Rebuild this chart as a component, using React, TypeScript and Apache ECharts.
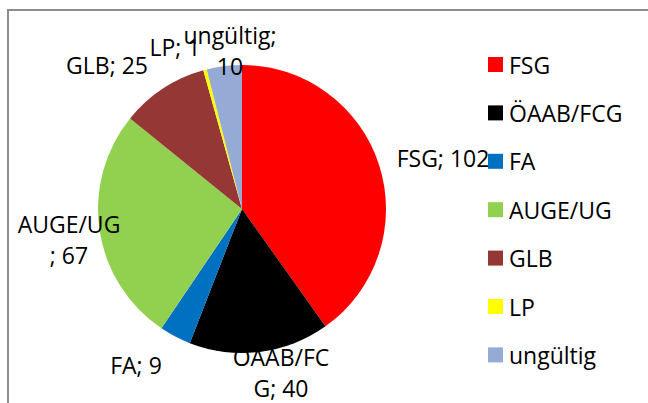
import React, { useEffect, useRef } from "react";
import * as echarts from "echarts";

const categories = ["FSG", "ÖAAB/FCG", "FA", "AUGE/UG", "GLB", "LP", "ungültig"];
const values = [102, 40, 9, 67, 25, 1, 10];
const colors = ["#FF0000", "#000000", "#0070C0", "#92D050", "#953735", "#FFFF00", "#95AAD4"];
// character index in "name; value" where the label wraps (null = single line)
const labelBreaks: (number | null)[] = [null, 7, null, 7, null, null, 9];
// label centre positions (layout only)
const labelPos: [number, number][] = [
  [443, 158],
  [281, 372],
  [136, 365],
  [69, 239],
  [107, 65],
  [175, 47],
  [230, 50],
];

const FONT = "Open Sans";

export default function App() {
  const ref = useRef<HTMLDivElement>(null);
  useEffect(() => {
    if (!ref.current) return;
    const chart = echarts.init(ref.current, null, { renderer: "svg" });
    chart.setOption({
      animation: false,
      backgroundColor: "#ffffff",
      color: colors,
      textStyle: { fontFamily: FONT },
      graphic: [
        {
          type: "rect",
          shape: { x: 8, y: 10, width: 700, height: 500 },
          style: { fill: "none", stroke: "#8c8c8c", lineWidth: 2 },
          silent: true,
          z: -10,
        },
      ],
      legend: {
        orient: "vertical",
        left: 488,
        top: 52.5,
        padding: 0,
        icon: "rect",
        itemWidth: 15,
        itemHeight: 15,
        itemGap: 24.4,
        selectedMode: false,
        textStyle: { fontFamily: FONT, fontSize: 23, color: "#000", lineHeight: 24, padding: [0, 0, 0, 1] },
        data: categories,
      },
      series: [
        {
          type: "pie",
          center: [242, 209],
          radius: 144,
          startAngle: 90,
          clockwise: true,
          silent: true,
          itemStyle: { borderWidth: 0 },
          labelLine: { show: false },
          label: {
            show: true,
            position: "outside",
            overflow: "none",
            fontFamily: FONT,
            fontSize: 23,
            lineHeight: 31,
            color: "#000",
            formatter: (p: any) => {
              const s = `${p.name}; ${p.value}`;
              const b = labelBreaks[p.dataIndex];
              if (b == null) return s;
              return s.slice(0, b).trim() + "\n" + s.slice(b).trim();
            },
          },
          labelLayout: (p: any) => {
            const pos = labelPos[p.dataIndex];
            return { x: pos[0], y: pos[1], align: "center", verticalAlign: "middle" };
          },
          data: categories.map((c, i) => ({ name: c, value: values[i] })),
        },
      ],
    });
    return () => chart.dispose();
  }, []);
  return (
    <div
      ref={ref}
      style={{ position: "fixed", left: 0, top: 0, width: 648, height: 403 }}
    />
  );
}
